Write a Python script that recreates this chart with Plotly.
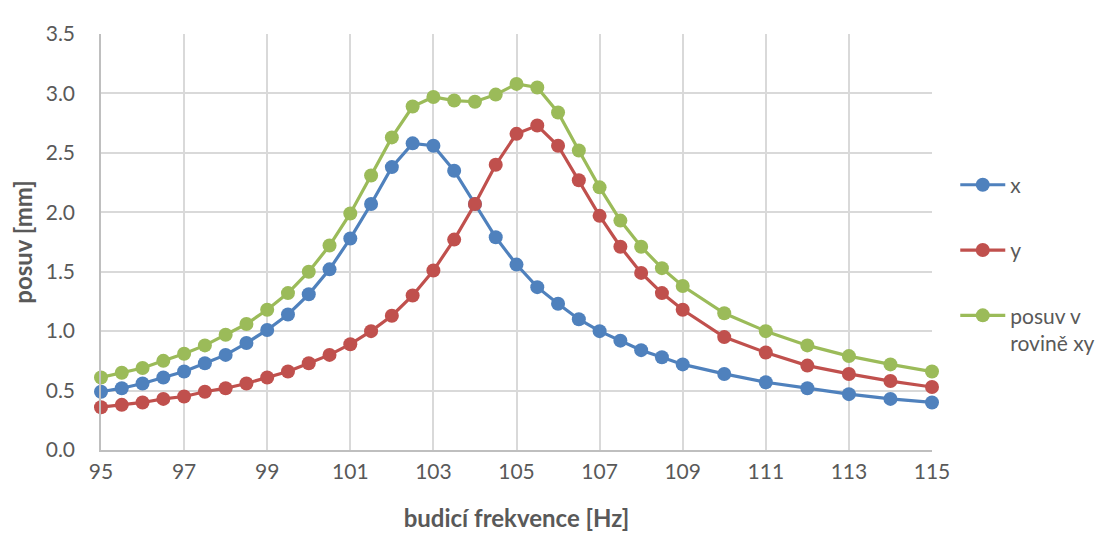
import plotly.graph_objects as go

freq = [95, 95.5, 96, 96.5, 97, 97.5, 98, 98.5, 99, 99.5, 100, 100.5, 101, 101.5,
        102, 102.5, 103, 103.5, 104, 104.5, 105, 105.5, 106, 106.5, 107, 107.5,
        108, 108.5, 109, 110, 111, 112, 113, 114, 115]

posuv_x = [0.49, 0.52, 0.56, 0.61, 0.66, 0.73, 0.80, 0.90, 1.01, 1.14, 1.31, 1.52, 1.78, 2.07,
           2.38, 2.58, 2.56, 2.35, 2.07, 1.79, 1.56, 1.37, 1.23, 1.10, 1.00, 0.92,
           0.84, 0.78, 0.72, 0.64, 0.57, 0.52, 0.47, 0.43, 0.40]

posuv_y = [0.36, 0.38, 0.40, 0.43, 0.45, 0.49, 0.52, 0.56, 0.61, 0.66, 0.73, 0.80, 0.89, 1.00,
           1.13, 1.30, 1.51, 1.77, 2.07, 2.40, 2.66, 2.73, 2.56, 2.27, 1.97, 1.71,
           1.49, 1.32, 1.18, 0.95, 0.82, 0.71, 0.64, 0.58, 0.53]

posuv_xy = [0.61, 0.65, 0.69, 0.75, 0.81, 0.88, 0.97, 1.06, 1.18, 1.32, 1.50, 1.72, 1.99, 2.31,
            2.63, 2.89, 2.97, 2.94, 2.93, 2.99, 3.08, 3.05, 2.84, 2.52, 2.21, 1.93,
            1.71, 1.53, 1.38, 1.15, 1.00, 0.88, 0.79, 0.72, 0.66]

series_names = ["x", "y", "posuv v<br>rovině xy"]
colors = ["#4F81BD", "#C0504D", "#9BBB59"]
x_ticks = [95, 97, 99, 101, 103, 105, 107, 109, 111, 113, 115]
y_ticks = [0.0, 0.5, 1.0, 1.5, 2.0, 2.5, 3.0, 3.5]

FONT = "Lato, Calibri, 'Open Sans', sans-serif"
GRAY = "#595959"

fig = go.Figure()
for i, (name, vals) in enumerate(zip(series_names, [posuv_x, posuv_y, posuv_xy])):
    fig.add_trace(go.Scatter(
        x=freq, y=vals, name=name, mode="lines+markers",
        line=dict(color=colors[i], width=3.2),
        marker=dict(color=colors[i], size=14),
        cliponaxis=False, legendgroup=f"g{i}",
    ))

fig.update_layout(
    width=1110, height=533,
    paper_bgcolor="white", plot_bgcolor="white",
    margin=dict(l=89, r=186, t=14, b=91),
    font=dict(family=FONT, color=GRAY, size=21),
    showlegend=True,
    legend=dict(x=1.028, y=0.686, xanchor="left", yanchor="top", valign="top",
                font=dict(size=21, color=GRAY), tracegroupgap=35,
                itemwidth=45),
    xaxis=dict(
        range=[95, 115], tickvals=x_ticks, ticktext=[str(t) for t in x_ticks],
        showgrid=True, gridcolor="#D9D9D9", gridwidth=1.5,
        showline=True, linecolor="#BFBFBF", linewidth=1.5,
        zeroline=False, ticks="", ticklabelstandoff=2,
        title=dict(text="<b>budicí frekvence [Hz]</b>", font=dict(size=24, color=GRAY), standoff=28),
    ),
    yaxis=dict(
        range=[0, 3.5], tickvals=y_ticks, ticktext=[f"{t:.1f}" for t in y_ticks],
        showgrid=True, gridcolor="#D9D9D9", gridwidth=1.5,
        showline=True, linecolor="#BFBFBF", linewidth=1.5,
        zeroline=False, ticks="", ticklabelstandoff=20,
        title=dict(text="<b>posuv [mm]</b>", font=dict(size=24, color=GRAY), standoff=9),
    ),
)

fig.write_html("out.html")
